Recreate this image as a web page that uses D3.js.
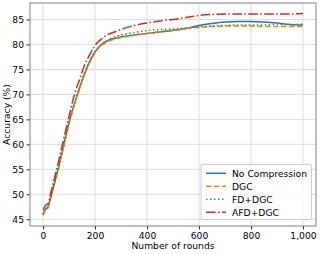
<!DOCTYPE html>
<html><head><meta charset="utf-8">
<script src="https://cdn.jsdelivr.net/npm/d3@7"></script>
<style>body{margin:0;background:#fff}svg{display:block;font-family:"DejaVu Sans",sans-serif}</style>
</head><body>
<script>
const rounds = [0,10,20,30,40,60,80,100,120,140,160,180,200,225,250,275,300,350,400,450,500,550,600,650,700,750,800,850,900,950,1000];
const noCompression = [46.0,47.0,47.6,49.5,51.5,55.5,60.0,64.4,68.0,71.2,74.2,76.6,78.5,80.0,80.8,81.2,81.5,81.9,82.2,82.5,82.8,83.2,83.8,84.2,84.5,84.6,84.6,84.5,84.3,84.0,83.9];
const dgc = [45.8,46.8,47.3,49.2,51.2,55.2,59.6,64.0,67.8,71.0,74.0,76.4,78.3,79.8,80.6,81.1,81.4,81.8,82.2,82.6,82.9,83.2,83.4,83.6,83.7,83.7,83.7,83.6,83.6,83.6,83.6];
const fdDgc = [45.9,47.0,47.5,49.4,51.4,55.3,59.8,64.2,68.0,71.2,74.2,76.6,78.5,80.0,80.9,81.5,81.9,82.4,82.8,83.0,83.1,83.3,83.5,83.7,83.8,83.9,83.9,83.9,84.0,84.0,84.1];
const afdDgc = [46.8,47.8,48.2,50.3,52.4,56.6,61.2,65.6,69.8,72.9,75.9,78.0,79.8,81.1,82.0,82.5,83.0,83.8,84.3,84.7,85.0,85.4,85.8,86.0,86.1,86.1,86.1,86.1,86.1,86.1,86.2];
const seriesNames = ["No Compression","DGC","FD+DGC","AFD+DGC"];
const seriesColors = ["#1f77b4","#ff7f0e","#2ca02c","#d62728"];
const seriesDash = [null,"5.5,2.4","1.5,2.5","9.6,2.4,1.5,2.4"];
const xTicks = [0,200,400,600,800,1000];
const yTicks = [45,50,55,60,65,70,75,80,85];

const W=320,H=254, L=30,R=316,T=3,B=226;
const svg=d3.select("body").append("svg").attr("width",W).attr("height",H);
const x=d3.scaleLinear().domain([-50,1050]).range([L,R]);
const y=d3.scaleLinear().domain([43.65,88.3]).range([B,T]);

// grid
svg.append("g").selectAll("line").data(xTicks).join("line")
 .attr("x1",d=>x(d)).attr("x2",d=>x(d)).attr("y1",T).attr("y2",B)
 .attr("stroke","#dcdcdc").attr("stroke-width",1);
svg.append("g").selectAll("line").data(yTicks).join("line")
 .attr("y1",d=>y(d)).attr("y2",d=>y(d)).attr("x1",L).attr("x2",R)
 .attr("stroke","#dcdcdc").attr("stroke-width",1);

// axes
const xa=svg.append("g").attr("transform",`translate(0,${B})`)
 .call(d3.axisBottom(x).tickValues(xTicks).tickSize(3.5).tickPadding(2.5).tickSizeOuter(0));
const ya=svg.append("g").attr("transform",`translate(${L},0)`)
 .call(d3.axisLeft(y).tickValues(yTicks).tickSize(3.5).tickPadding(2.5).tickSizeOuter(0));
[xa,ya].forEach(a=>{a.select(".domain").remove();
 a.selectAll("text").attr("font-family","DejaVu Sans").attr("font-size","9.2px").attr("fill","#000");
 a.selectAll("line").attr("stroke","#333");});

const cols=[noCompression,dgc,fdDgc,afdDgc];
const line=d3.line().x(d=>x(d[0])).y(d=>y(d[1])).curve(d3.curveMonotoneX);
cols.forEach((c,i)=>{
 svg.append("path").datum(rounds.map((r,j)=>[r,c[j]]))
  .attr("d",line).attr("fill","none").attr("stroke",seriesColors[i])
  .attr("stroke-width",1.5).attr("stroke-dasharray",seriesDash[i]);
});

// frame
svg.append("rect").attr("x",L).attr("y",T).attr("width",R-L).attr("height",B-T)
 .attr("fill","none").attr("stroke","#808080").attr("stroke-width",1);

// labels
svg.append("text").attr("x",(L+R)/2).attr("y",249).attr("text-anchor","middle")
 .attr("font-size","9.2px").text("Number of rounds");
svg.append("text").attr("transform",`translate(10,${(T+B)/2}) rotate(-90)`).attr("text-anchor","middle")
 .attr("font-size","9.2px").text("Accuracy (%)");

// legend
const lg=svg.append("g");
lg.append("rect").attr("x",201).attr("y",164.5).attr("width",110.5).attr("height",55).attr("rx",2)
 .attr("fill","#fff").attr("fill-opacity",0.8).attr("stroke","#cccccc").attr("stroke-width",1);
seriesNames.forEach((n,i)=>{
 const yy=173.3+i*13;
 lg.append("line").attr("x1",206).attr("x2",226).attr("y1",yy).attr("y2",yy)
  .attr("stroke",seriesColors[i]).attr("stroke-width",1.5).attr("stroke-dasharray",seriesDash[i]);
 lg.append("text").attr("x",232).attr("y",yy+3.3).attr("font-size","9.2px").text(n);
});
</script>
</body></html>
